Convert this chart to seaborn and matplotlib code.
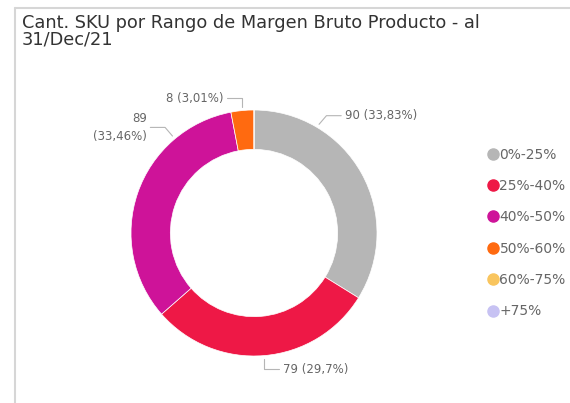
import numpy as np
import matplotlib
matplotlib.use("Agg")
import matplotlib.pyplot as plt
from matplotlib.lines import Line2D
import seaborn as sns

# Data
rangos = ['0%-25%', '25%-40%', '40%-50%', '50%-60%', '60%-75%', '+75%']
cant_sku = [90, 79, 89, 8, 0, 0]
etiquetas = ['90 (33,83%)', '79 (29,7%)', '89\n(33,46%)', '8 (3,01%)', '', '']
colores = ['#B6B6B6', '#EE1846', '#CE1399', '#FF6A10', '#F9C55E', '#C7C2F3']

sns.set_theme(style="white")
plt.rcParams['font.family'] = ['DejaVu Sans']

fig = plt.figure(figsize=(5.70, 4.03), dpi=100)

# frame like the Power BI visual
fig.add_artist(plt.Line2D([15/570, 15/570], [0, 1 - 8/403], color='#D6D6D6', lw=1.5))
fig.add_artist(plt.Line2D([15/570, 1], [1 - 8/403, 1 - 8/403], color='#D6D6D6', lw=1.5))

fig.text(22/570, 1 - 14/403, 'Cant. SKU por Rango de Margen Bruto Producto - al\n31/Dec/21',
         ha='left', va='top', fontsize=12.8, color='#333333', linespacing=0.92)

cx, cy, r = 254, 233, 123
ax = fig.add_axes([(cx - r)/570, (403 - cy - r)/403, 2*r/570, 2*r/403])
wedges, _ = ax.pie(cant_sku, colors=colores, startangle=90, counterclock=False,
                   radius=1, wedgeprops=dict(width=0.32, edgecolor='white', linewidth=0.5))
ax.set_xlim(-1, 1)
ax.set_ylim(-1, 1)
ax.set_aspect('equal')
ax.axis('off')

# label placement (angle of the leader start, direction of text)
ajuste_ang = [30, 0, -31, 0, 0, 0]
lado = [1, 1, -1, -1, 1, 1]
for w, txt, da, s in zip(wedges, etiquetas, ajuste_ang, lado):
    if not txt:
        continue
    ang = (w.theta1 + w.theta2) / 2 + da
    a = np.deg2rad(ang)
    x0, y0 = 1.03 * np.cos(a), 1.03 * np.sin(a)
    if y0 > 0:
        x1, y1 = x0 + 0.06 * s * (1 if abs(np.cos(a)) > 0.3 else 0), y0 + 0.07
    else:
        x1, y1 = x0, y0 - 0.08
    x2 = x1 + 0.12 * s
    ax.plot([x0, x1, x2], [y0, y1, y1], color='#B5B5B5', lw=0.8, clip_on=False)
    ax.text(x2 + 0.03 * s, y1, txt, ha='left' if s > 0 else 'right', va='center',
            fontsize=8.5, color='#666666', linespacing=1.5, multialignment='right')

handles = [Line2D([0], [0], marker='o', color='none', markerfacecolor=c,
                  markeredgecolor=c, markersize=8) for c in colores]
fig.legend(handles, rangos, loc='upper left', bbox_to_anchor=(480/570, 1 - 142/403),
           frameon=False, handletextpad=0.0, handlelength=1.0, labelspacing=1.25,
           fontsize=10, labelcolor='#666666', borderaxespad=0)

fig.savefig('out.png', dpi=100, facecolor='white')
